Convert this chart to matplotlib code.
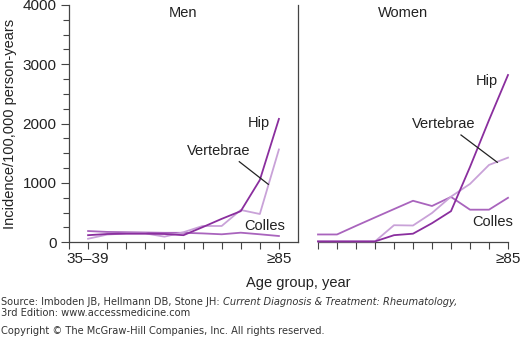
import matplotlib
matplotlib.use("Agg")
import matplotlib.pyplot as plt

age_labels_men = ["35–39", "", "", "", "", "", "", "", "", "", "≥85"]
age_labels_women = ["", "", "", "", "", "", "", "", "", "", "≥85"]
men_hip = [120, 140, 145, 145, 140, 120, 255, 395, 525, 1050, 2080]
men_vert = [60, 130, 150, 150, 95, 170, 275, 275, 545, 477, 1565]
men_colles = [190, 175, 170, 165, 160, 160, 150, 135, 162, 135, 106]
women_hip = [15, 15, 15, 15, 120, 145, 322, 525, 1270, 2060, 2820]
women_vert = [15, 15, 15, 15, 288, 283, 494, 770, 984, 1304, 1427]
women_colles = [132, 132, 277, 419, 560, 700, 612, 765, 550, 550, 750]

C_HIP = "#8a2e9e"
C_VERT = "#c9a2d8"
C_COL = "#a964bd"
FONT = "Liberation Sans"

W, H = 520, 354
fig = plt.figure(figsize=(W / 100, H / 100), dpi=100)
y0, y1 = 242.3, 5.0

def rect(l, r):
    return [l / W, (H - y0) / H, (r - l) / W, (y0 - y1) / H]

axm = fig.add_axes(rect(69, 298))
axw = fig.add_axes(rect(318, 508))
xs = list(range(11))

for ax, hip, vert, col, labs in ((axm, men_hip, men_vert, men_colles, age_labels_men),
                                 (axw, women_hip, women_vert, women_colles, age_labels_women)):
    ax.plot(xs, col, color=C_COL, lw=1.3, clip_on=False, zorder=3)
    ax.plot(xs, vert, color=C_VERT, lw=1.3, clip_on=False, zorder=3)
    ax.plot(xs, hip, color=C_HIP, lw=1.3, clip_on=False, zorder=4)
    ax.set_ylim(0, 4000)
    ax.set_xticks(xs)
    ax.set_xticklabels(labs, fontsize=11, family=FONT, color="#222222")
    ax.tick_params(axis="x", length=5, width=0.8, color="#444444", pad=2)
    ax.spines["top"].set_visible(False)
    for s in ax.spines.values():
        s.set_color("#444444")
        s.set_linewidth(0.9)
    ax.patch.set_alpha(0)

axm.set_xlim(-1, 11)
axw.set_xlim(0, 10)
axm.set_xticks([-1] + xs)
axm.set_xticklabels([""] + age_labels_men, fontsize=11, family=FONT, color="#222222")
axm.set_yticks([0, 1000, 2000, 3000, 4000])
axm.set_yticklabels(["0", "1000", "2000", "3000", "4000"], fontsize=11, family=FONT, color="#222222")
axm.set_yticks(range(0, 4001, 250), minor=True)
axm.tick_params(axis="y", which="major", length=6, width=0.8, color="#444444", pad=3)
axm.tick_params(axis="y", which="minor", length=4, width=0.8, color="#444444")
axm.spines["right"].set_visible(True)
axw.spines["left"].set_visible(False)
axw.spines["right"].set_visible(False)
axw.set_yticks([])

axm.set_ylabel("Incidence/100,000 person-years", fontsize=10.5, family=FONT, color="#222222", labelpad=4)

tk = dict(fontsize=10.5, family=FONT, color="#222222")
fig.text(183.5 / W, 1 - 13 / H, "Men", ha="center", va="center", **tk)
fig.text(402.5 / W, 1 - 13 / H, "Women", ha="center", va="center", **tk)
fig.text(298.5 / W, 1 - 283 / H, "Age group, year", ha="center", va="center", **tk)

# annotations (men)
fig.text(270 / W, 1 - 123 / H, "Hip", ha="right", va="center", **tk)
fig.text(219 / W, 1 - 151 / H, "Vertebrae", ha="center", va="center", **tk)
fig.text(244 / W, 1 - 226 / H, "Colles", ha="left", va="center", **tk)
fig.add_artist(plt.Line2D([239.3 / W, 268.3 / W], [1 - 161.7 / H, 1 - 184.3 / H], color="#222222", lw=0.9))
# annotations (women)
fig.text(498 / W, 1 - 81 / H, "Hip", ha="right", va="center", **tk)
fig.text(444 / W, 1 - 124 / H, "Vertebrae", ha="center", va="center", **tk)
fig.text(472 / W, 1 - 222 / H, "Colles", ha="left", va="center", **tk)
fig.add_artist(plt.Line2D([461 / W, 497.3 / W], [1 - 135 / H, 1 - 162.3 / H], color="#222222", lw=0.9))

# source footer
fs = dict(fontsize=7.1, family="DejaVu Sans", color="#333333", va="center")
t1 = fig.text(1 / W, 1 - 302 / H, "Source: Imboden JB, Hellmann DB, Stone JH: ", ha="left", **fs)
fig.canvas.draw()
bb = t1.get_window_extent()
fig.text(bb.x1 / W, 1 - 302 / H, "Current Diagnosis & Treatment: Rheumatology,", ha="left", style="italic", **fs)
fig.text(1 / W, 1 - 313.5 / H, "3rd Edition: www.accessmedicine.com", ha="left", **fs)
fig.text(1 / W, 1 - 331 / H, "Copyright © The McGraw-Hill Companies, Inc. All rights reserved.", ha="left", **fs)

fig.savefig("out.png", dpi=100)
